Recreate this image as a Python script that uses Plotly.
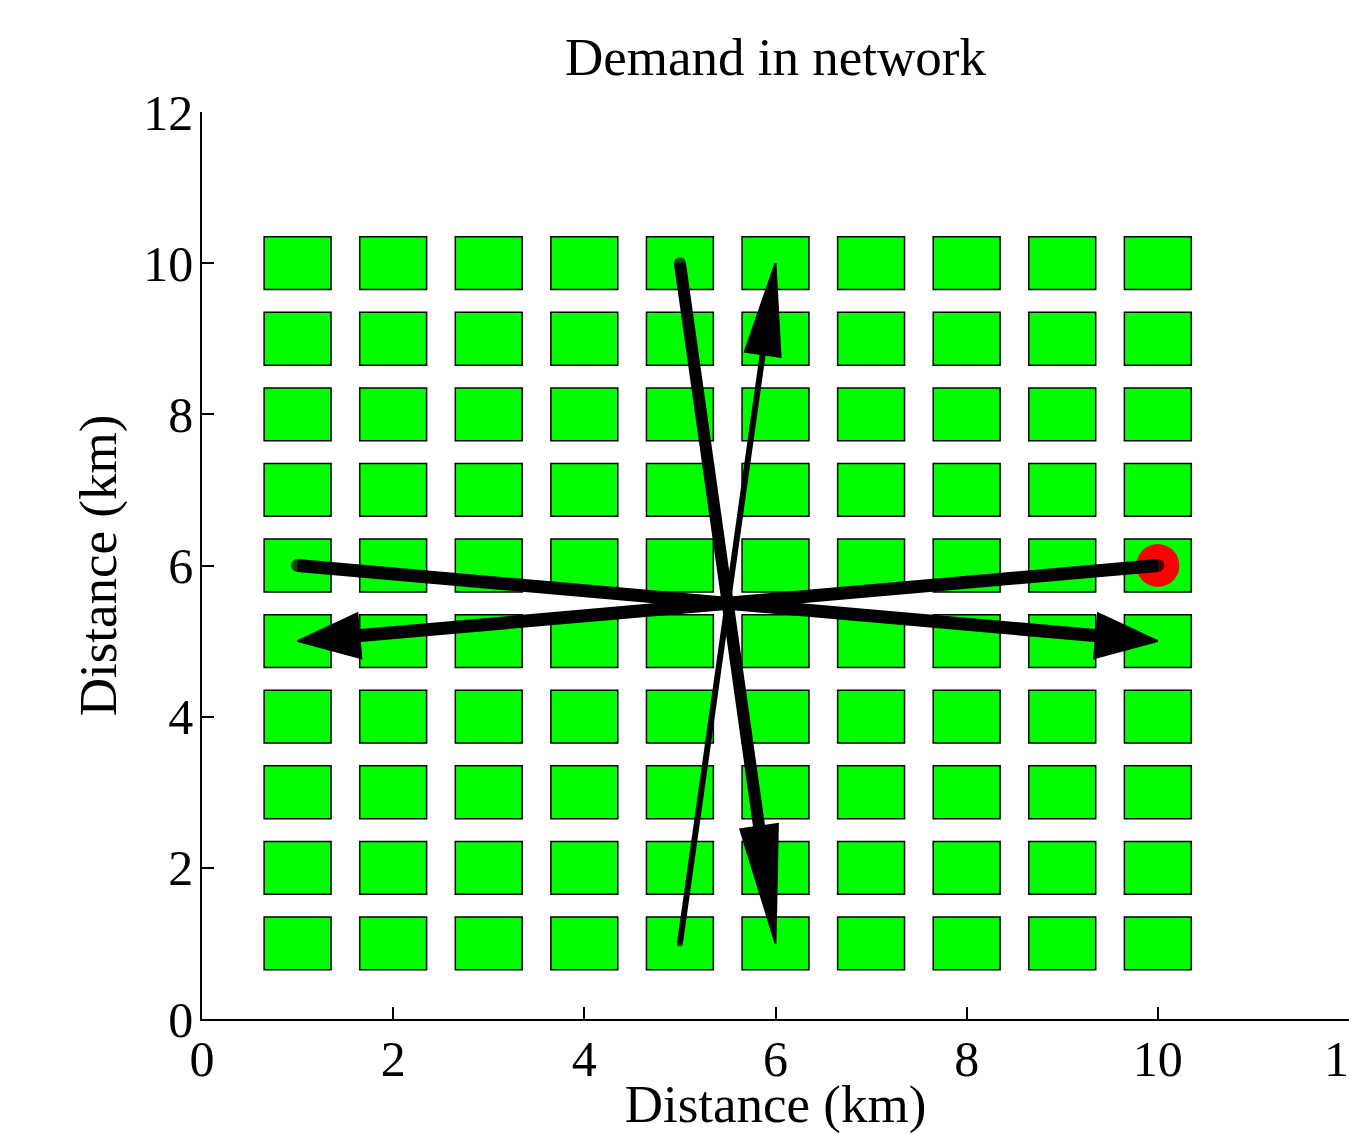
import math
import plotly.graph_objects as go

# ---------------- data ----------------
grid_x = [1, 2, 3, 4, 5, 6, 7, 8, 9, 10]
grid_y = [1, 2, 3, 4, 5, 6, 7, 8, 9, 10]
cell_size = 0.7

origin_x = [10]
origin_y = [6]

arrow_x0 = [10, 1, 5, 5]
arrow_y0 = [6, 6, 10, 1]
arrow_x1 = [1, 10, 6, 6]
arrow_y1 = [5, 5, 1, 10]

x_ticks = [0, 2, 4, 6, 8, 10, 12]
y_ticks = [0, 2, 4, 6, 8, 10, 12]

# ---------------- style ----------------
arrow_width = [13, 13, 12, 6]
head_len = [62, 62, 118, 92]
head_wid = [45, 45, 38, 36]

FIG_W, FIG_H = 1349, 1134
M_L, M_R, M_T, M_B = 202, 0, 112, 115
XR = [0, 12]
YR = [0, 12]
sx = (FIG_W - M_L - M_R) / (XR[1] - XR[0])
sy = (FIG_H - M_T - M_B) / (YR[1] - YR[0])

FONT = "Liberation Serif, Times New Roman, serif"

fig = go.Figure()

# green cells
shapes = []
for cx in grid_x:
    for cy in grid_y:
        shapes.append(dict(type="rect", xref="x", yref="y", layer="below",
                           x0=cx - cell_size / 2, x1=cx + cell_size / 2,
                           y0=cy - cell_size / 2, y1=cy + cell_size / 2,
                           fillcolor="#00FF00", line=dict(color="black", width=1.5)))

# red origin marker
fig.add_trace(go.Scatter(x=origin_x, y=origin_y, mode="markers",
                         marker=dict(color="#FF0000", size=43, line=dict(width=0)),
                         showlegend=False, hoverinfo="skip"))

# arrows
for i in range(len(arrow_x0)):
    x0, y0, x1, y1 = arrow_x0[i], arrow_y0[i], arrow_x1[i], arrow_y1[i]
    dxp = (x1 - x0) * sx
    dyp = (y1 - y0) * sy
    n = math.hypot(dxp, dyp)
    ux, uy = dxp / n, dyp / n
    L, Wd = head_len[i], head_wid[i]
    tipx, tipy = x1 * sx, y1 * sy
    bx, by = tipx - L * ux, tipy - L * uy
    px, py = -uy, ux
    c1 = ((bx + Wd / 2 * px) / sx, (by + Wd / 2 * py) / sy)
    c2 = ((bx - Wd / 2 * px) / sx, (by - Wd / 2 * py) / sy)
    lx, ly = (tipx - 0.6 * L * ux) / sx, (tipy - 0.6 * L * uy) / sy
    w = arrow_width[i]
    fig.add_trace(go.Scatter(x=[x0, lx], y=[y0, ly], mode="lines+markers",
                             line=dict(color="black", width=w),
                             marker=dict(color="black", size=[w, 0], line=dict(width=0)),
                             showlegend=False, hoverinfo="skip"))
    fig.add_trace(go.Scatter(x=[x1, c1[0], c2[0], x1], y=[y1, c1[1], c2[1], y1],
                             mode="lines", fill="toself", fillcolor="black",
                             line=dict(color="black", width=2),
                             showlegend=False, hoverinfo="skip"))

axis_common = dict(showgrid=False, zeroline=False, showline=True, linecolor="black",
                   linewidth=1.5, ticks="inside", ticklen=12, tickwidth=1.5,
                   tickcolor="black", tickfont=dict(family=FONT, size=50, color="black"),
                   automargin=False, fixedrange=True, ticklabeloverflow="allow")

fig.update_layout(
    width=FIG_W, height=FIG_H,
    margin=dict(l=M_L, r=M_R, t=M_T, b=M_B),
    paper_bgcolor="white", plot_bgcolor="white",
    shapes=shapes,
    title=dict(text="Demand in network", x=0.5, xref="paper", xanchor="center",
               y=1 - 56 / FIG_H, yref="container", yanchor="middle",
               font=dict(family=FONT, size=53, color="black")),
    xaxis=dict(range=XR, tickvals=x_ticks, ticktext=[str(v) for v in x_ticks],
               ticklabelstandoff=-5,
               title=dict(text="Distance (km)", font=dict(family=FONT, size=53, color="black"),
                          standoff=10),
               **axis_common),
    yaxis=dict(range=YR, tickvals=y_ticks, ticktext=[str(v) for v in y_ticks],
               ticklabelstandoff=-3,
               title=dict(text="Distance (km)", font=dict(family=FONT, size=53, color="black"),
                          standoff=10),
               **axis_common),
)

fig.write_html("out.html", config={"displayModeBar": False},
               post_script="document.body.style.margin='0';document.body.style.overflow='hidden';")
